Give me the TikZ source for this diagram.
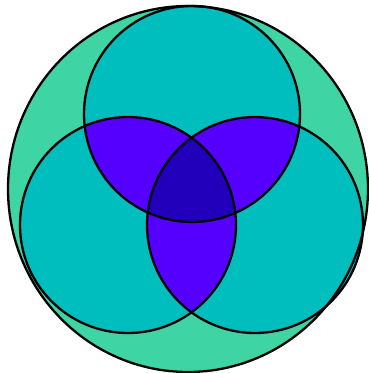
\documentclass[tikz,border=0pt]{standalone}
\usepackage{tikz}
\definecolor{outg}{RGB}{62,212,163}
\definecolor{cy}{RGB}{0,190,190}
\definecolor{pu}{RGB}{85,0,255}
\definecolor{dk}{RGB}{34,0,187}
\tikzset{ring/.style={draw=black,line width=2.3pt}}
\begin{document}
\begin{tikzpicture}[x=1pt,y=-1pt]
\useasboundingbox (0,0) rectangle (369,373);
\coordinate (O) at (188,189);
\coordinate (T) at (192,114);
\coordinate (L) at (128,225);
\coordinate (R) at (255,225);
\def\rr{108}
\fill[outg] (O) ellipse [x radius=180, y radius=183];
\fill[cy] (T) circle (\rr);
\fill[cy] (L) circle (\rr);
\fill[cy] (R) circle (\rr);
\begin{scope}
\clip (T) circle (\rr);
\fill[pu] (L) circle (\rr);
\fill[pu] (R) circle (\rr);
\end{scope}
\begin{scope}
\clip (L) circle (\rr);
\fill[pu] (R) circle (\rr);
\end{scope}
\begin{scope}
\clip (T) circle (\rr);
\clip (L) circle (\rr);
\fill[dk] (R) circle (\rr);
\end{scope}
\draw[ring] (O) ellipse [x radius=180, y radius=183];
\draw[ring] (T) circle (\rr);
\draw[ring] (L) circle (\rr);
\draw[ring] (R) circle (\rr);
\end{tikzpicture}
\end{document}
